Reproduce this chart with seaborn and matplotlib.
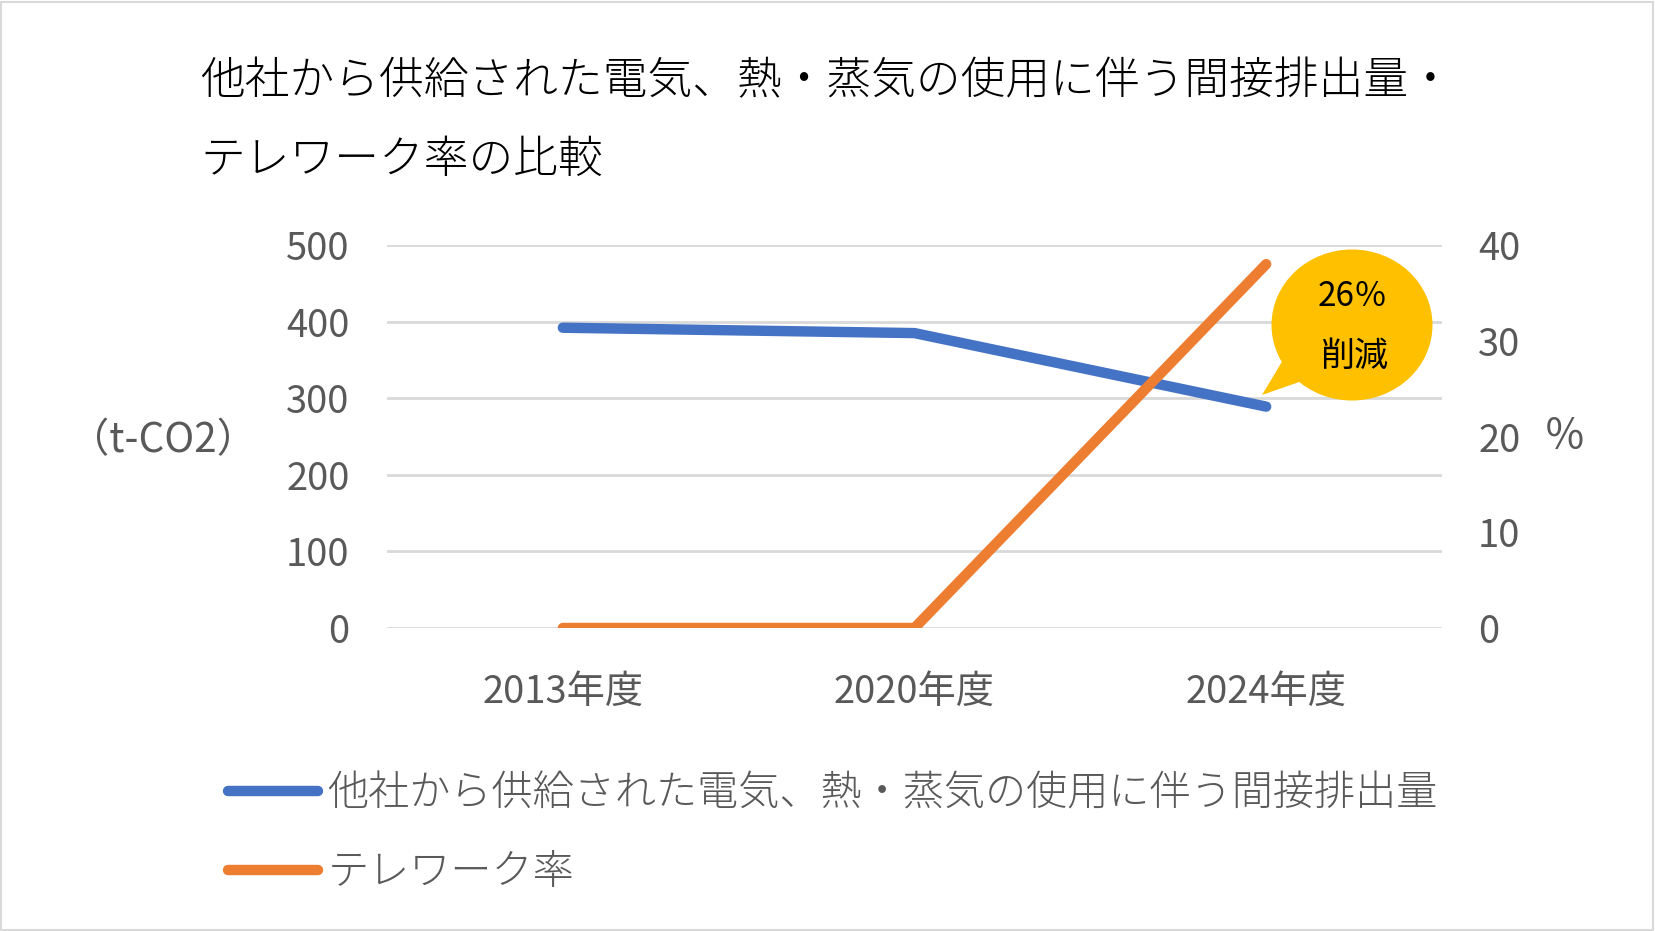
import matplotlib
matplotlib.use("Agg")
import matplotlib.pyplot as plt
import seaborn as sns
import pandas as pd
from matplotlib.patches import Ellipse, Polygon, Rectangle

# ---- data ----
years = ["2013年度", "2020年度", "2024年度"]
emissions = [392, 385, 289]          # t-CO2
telework = [0, 0, 38]                # %
title_line1 = "他社から供給された電気、熱・蒸気の使用に伴う間接排出量・"
title_line2 = "テレワーク率の比較"
series_names = ["他社から供給された電気、熱・蒸気の使用に伴う間接排出量", "テレワーク率"]
left_ticks = [0, 100, 200, 300, 400, 500]
right_ticks = [0, 10, 20, 30, 40]
callout_lines = ["26％", "削減"]

df = pd.DataFrame({"year": years, "emission": emissions, "telework": telework})

sns.set_theme(style="white")
plt.rcParams["font.family"] = ["Noto Sans CJK JP", "DejaVu Sans"]

BLUE = "#4472C4"
ORANGE = "#ED7D31"
YELLOW = "#FFC000"
GRAY = "#595959"
GRID = "#D9D9D9"

W, H = 1655, 931
fig = plt.figure(figsize=(W / 100, H / 100), dpi=100)
fig.patch.set_facecolor("white")

x0, x1, y0, y1 = 387, 1442, 245, 628
ax = fig.add_axes([x0 / W, 1 - y1 / H, (x1 - x0) / W, (y1 - y0) / H])
ax2 = ax.twinx()

sns.lineplot(data=df, x="year", y="emission", ax=ax, color=BLUE, lw=7.5,
             solid_capstyle="round", label=series_names[0], legend=False, sort=False)
sns.lineplot(data=df, x="year", y="telework", ax=ax2, color=ORANGE, lw=7.5,
             solid_capstyle="round", label=series_names[1], legend=False, sort=False)

ax.set_xlim(-0.5, 2.5)
ax.set_ylim(0, 500)
ax.set_yticks(left_ticks)
ax2.set_ylim(0, 40)
ax2.set_yticks(right_ticks)

ax.yaxis.grid(True, color=GRID, lw=2)
ax.xaxis.grid(False)
ax.set_axisbelow(True)
for a in (ax, ax2):
    for s in a.spines.values():
        s.set_visible(False)
    a.set_xlabel("")
ax2.patch.set_visible(False)

TICK_FS = 27.5
ax.tick_params(axis="y", length=0, pad=27, labelsize=TICK_FS, labelcolor=GRAY)
ax.tick_params(axis="x", length=0, pad=32, labelsize=TICK_FS, labelcolor=GRAY)
ax2.tick_params(axis="y", length=0, pad=26, labelsize=TICK_FS, labelcolor=GRAY)

ax.set_ylabel("（t-CO2）", rotation=0, fontsize=29, color=GRAY, ha="center", va="center")
ax.yaxis.set_label_coords((163 - x0) / (x1 - x0), 0.49)
ax2.set_ylabel("％", rotation=0, fontsize=30, color=GRAY, ha="center", va="center")
ax2.yaxis.set_label_coords((1565 - x0) / (x1 - x0), (y1 - 437) / (y1 - y0))

# title
fig.text(200 / W, 1 - 82 / H, title_line1, fontsize=32.2, color="black",
         ha="left", va="center", fontweight="light")
fig.text(200 / W, 1 - 160 / H, title_line2, fontsize=32.2, color="black",
         ha="left", va="center", fontweight="light")

# callout
def axfrac(px, py):
    return ((px - x0) / (x1 - x0), (y1 - py) / (y1 - y0))

tail = Polygon([axfrac(1262, 395), axfrac(1292, 345), axfrac(1322, 374)],
               closed=True, transform=ax2.transAxes, facecolor=YELLOW,
               edgecolor="none", zorder=5, clip_on=False)
ax2.add_patch(tail)
cx, cy = axfrac(1352, 325)
ell = Ellipse((cx, cy), 161 / (x1 - x0), 151 / (y1 - y0), transform=ax2.transAxes,
              facecolor=YELLOW, edgecolor="none", zorder=5, clip_on=False)
ax2.add_patch(ell)
tx, ty = axfrac(1353, 297)
ax2.text(tx, ty, callout_lines[0], transform=ax2.transAxes, fontsize=24,
         color="black", ha="center", va="center", zorder=6)
tx, ty = axfrac(1355, 356)
ax2.text(tx, ty, callout_lines[1], transform=ax2.transAxes, fontsize=24.5,
         color="black", ha="center", va="center", zorder=6)

# legend
h1, l1 = ax.get_legend_handles_labels()
h2, l2 = ax2.get_legend_handles_labels()
leg = fig.legend(h1 + h2, l1 + l2, loc="upper left",
                 bbox_to_anchor=(228 / W, 1 - 772 / H), frameon=False,
                 fontsize=29.6, handlelength=2.2, handletextpad=0.22,
                 labelspacing=0.85, borderpad=0, borderaxespad=0)
for t in leg.get_texts():
    t.set_color(GRAY)
    t.set_fontweight("light")
for ln in leg.get_lines():
    ln.set_solid_capstyle("round")

# chart border
fig.patches.append(Rectangle((1 / W, 1 / H), 1 - 3 / W, 1 - 3 / H, transform=fig.transFigure,
                             fill=False, edgecolor=GRID, lw=1.5))

fig.savefig("out.png", dpi=100)
